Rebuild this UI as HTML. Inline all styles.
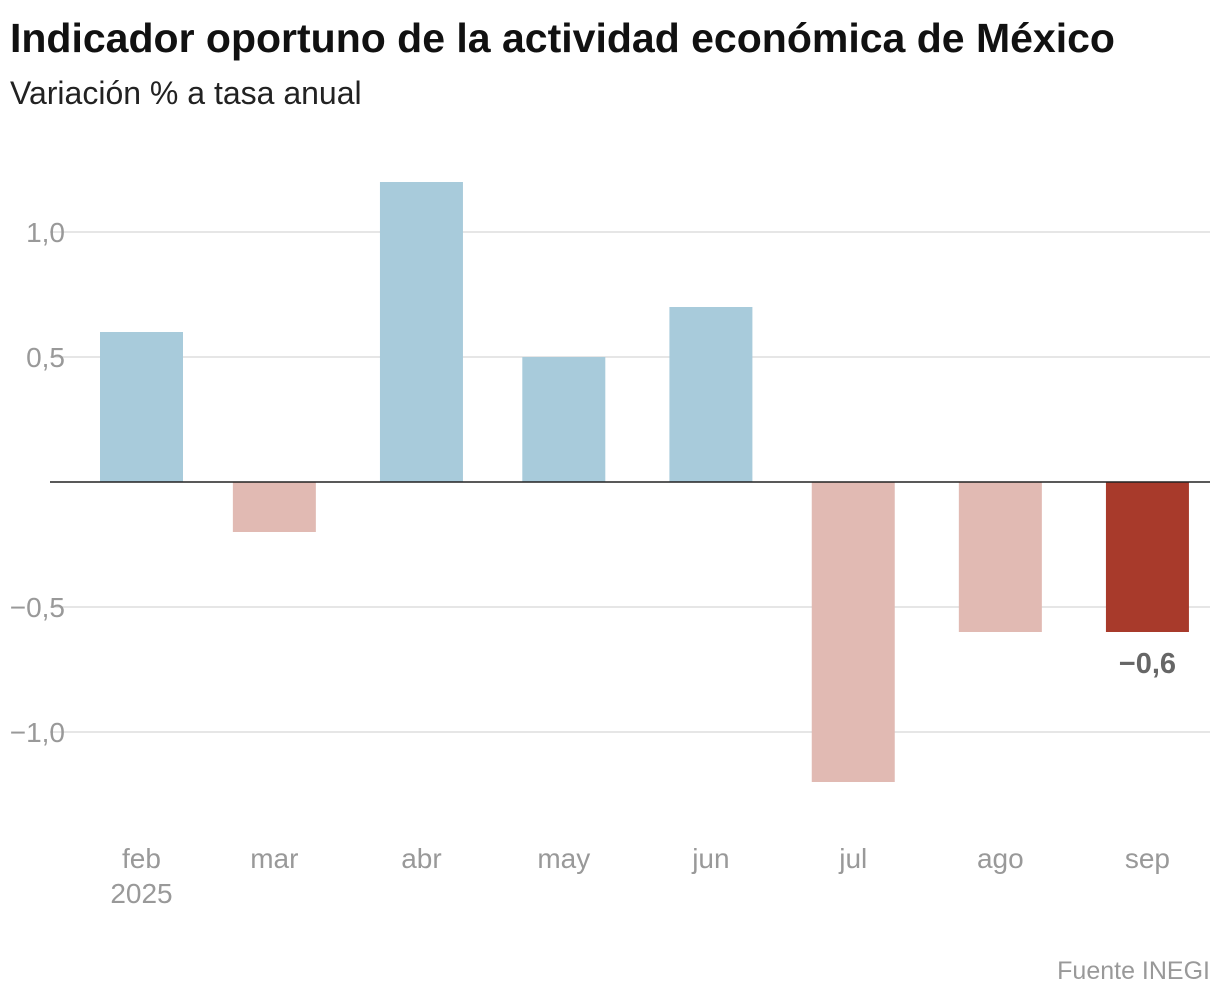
<!DOCTYPE html>
<html><head><meta charset="utf-8">
<style>
body{margin:0;background:#fff;width:1220px;height:1000px;overflow:hidden;font-family:"Liberation Sans",sans-serif}
</style></head>
<body>
<svg width="1220" height="1000">
<text x="10" y="52" font-size="41" font-weight="bold" fill="#111">Indicador oportuno de la actividad económica de México</text>
<text x="10" y="104" font-size="32" fill="#222">Variación % a tasa anual</text>
<g id="grid"></g>
<g id="bars"></g>
<g id="xlabels"></g>
<text x="1210" y="979" font-size="25" fill="#999" text-anchor="end">Fuente INEGI</text>
</svg>
<script>
const categories=["feb","mar","abr","may","jun","jul","ago","sep"];
const monthDays=[28,31,30,31,30,31,31,30];
const values=[0.6,-0.2,1.2,0.5,0.7,-1.2,-0.6,-0.6];
const ticks=[1.0,0.5,-0.5,-1.0];
const tickLabels=["1,0","0,5","−0,5","−1,0"];
const NS="http://www.w3.org/2000/svg";
const y=v=>482-v*250;
const pxPerDay=4.745,bw=83;
const dayOff=[];let acc=0;monthDays.forEach(d=>{dayOff.push(acc);acc+=d;});
const xc=i=>141.5+dayOff[i]*pxPerDay;
function mk(tag,attrs,parent){const e=document.createElementNS(NS,tag);for(const k in attrs)e.setAttribute(k,attrs[k]);parent.appendChild(e);return e;}
const grid=document.getElementById('grid');
ticks.forEach((t,i)=>{
 const l=mk('line',{x1:50,x2:1210,y1:y(t),y2:y(t),stroke:'#ddd','stroke-width':1.5},grid);
 
 
 const tx=mk('text',{x:65,y:y(t)+10,'font-size':28,fill:'#999','text-anchor':'end'},grid);
 tx.textContent=tickLabels[i];
 
 
});
const bars=document.getElementById('bars');
values.forEach((v,i)=>{
 const last=i===values.length-1;
 const col=v>=0?'#a8cbdb':(last?'#a83a2b':'#e1bab3');
 const r=mk('rect',{x:xc(i)-bw/2,y:Math.min(y(v),y(0)),width:bw,height:Math.abs(y(v)-y(0)),fill:col},bars);
 
 
 const t=mk('text',{x:xc(i),y:868,'font-size':28,fill:'#999','text-anchor':'middle'},document.getElementById('xlabels'));
 t.textContent=categories[i];
 
 
});
const z=mk('line',{x1:50,x2:1210,y1:y(0),y2:y(0),stroke:'#222','stroke-width':1.5},bars);


const yr=mk('text',{x:xc(0),y:903,'font-size':28,fill:'#999','text-anchor':'middle'},document.getElementById('xlabels'));
yr.textContent="2025";


const li=values.length-1;
const vl=mk('text',{x:xc(li),y:y(values[li])+41,'font-size':29,'font-weight':'bold',fill:'#666','text-anchor':'middle'},bars);
vl.textContent=("−"+Math.abs(values[li]).toFixed(1)).replace('.',',');


</script>
</body></html>
